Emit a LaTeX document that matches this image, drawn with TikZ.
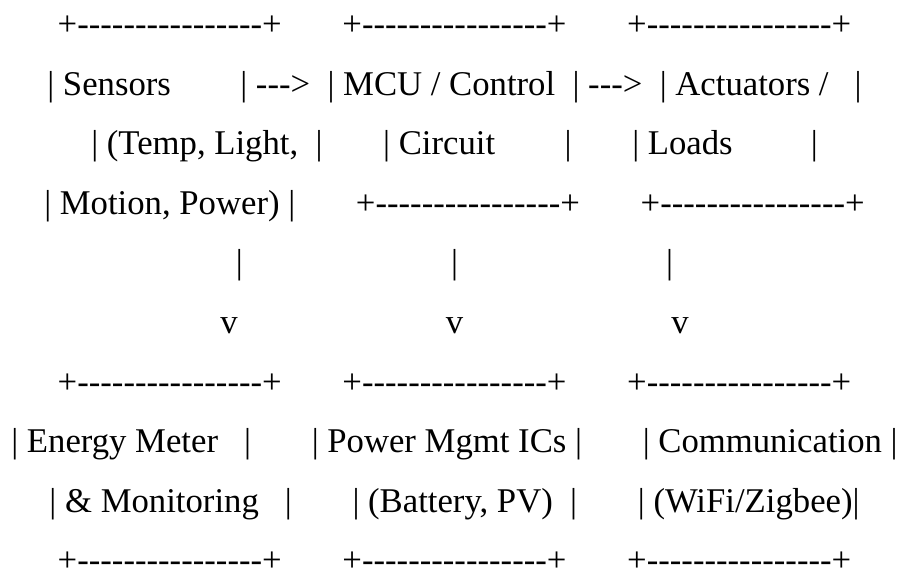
\documentclass[tikz,border=0pt]{standalone}
\usepackage{fontspec}
\newfontfamily\asciifont{Liberation Serif}
\usepackage{tikz}
\newcommand\gap[1]{\hspace*{#1\fontdimen2\font}}
\tikzset{
  row/.style = {anchor=base, inner sep=0pt,
                font=\asciifont\fontsize{34.7pt}{40pt}\selectfont},
}

\begin{document}
\begin{tikzpicture}[x=1pt,y=1pt]
  \useasboundingbox (0,0) rectangle (899,-574);

  % upper row of boxes
  \node[row] (rowTop)     at (454.5,-35.5)  {+----------------+\gap{7}+----------------+\gap{7}+----------------+};
  \node[row] (rowSensors) at (454.5,-95.1)  {| Sensors\gap{8}| --->\gap{2}| MCU / Control\gap{2}| --->\gap{2}| Actuators /\gap{3}|};
  \node[row] (rowTemp)    at (454.5,-154.7) {| (Temp, Light,\gap{2}|\gap{7}| Circuit\gap{8}|\gap{7}| Loads\gap{9}|};
  \node[row] (rowMotion)  at (454.5,-214.3) {| Motion, Power) |\gap{7}+----------------+\gap{7}+----------------+};

  % down arrows
  \node[row] (rowBar)     at (454.5,-273.9) {|\gap{24}|\gap{24}|};
  \node[row] (rowVee)     at (454.5,-333.5) {v\gap{24}v\gap{24}v};

  % lower row of boxes
  \node[row] (rowMid)     at (454.5,-393.1) {+----------------+\gap{7}+----------------+\gap{7}+----------------+};
  \node[row] (rowEnergy)  at (454.5,-452.7) {| Energy Meter\gap{3}|\gap{7}| Power Mgmt ICs |\gap{7}| Communication |};
  \node[row] (rowMonitor) at (454.5,-512.3) {| \& Monitoring\gap{3}|\gap{7}| (Battery, PV)\gap{2}|\gap{7}| (WiFi/Zigbee)|};
  \node[row] (rowBottom)  at (454.5,-571.9) {+----------------+\gap{7}+----------------+\gap{7}+----------------+};

\end{tikzpicture}
\end{document}
